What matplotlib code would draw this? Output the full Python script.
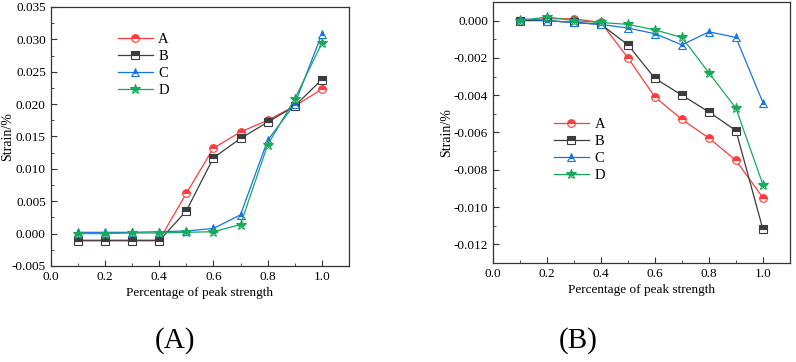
import matplotlib.pyplot as plt
import numpy as np
from matplotlib.ticker import MultipleLocator, FormatStrFormatter

plt.rcParams['font.family'] = ['Liberation Serif', 'DejaVu Serif']

# ── data ──────────────────────────────────────────────────────────────────────
x = [0.1, 0.2, 0.3, 0.4, 0.5, 0.6, 0.7, 0.8, 0.9, 1.0]
labels = ['A', 'B', 'C', 'D']

# panel (A)
a_A = [-0.0010, -0.0010, -0.0010, -0.0010, 0.0062, 0.0132, 0.0157, 0.0175, 0.0197, 0.0223]
a_B = [-0.0011, -0.0011, -0.0011, -0.0011, 0.0035, 0.0117, 0.0147, 0.0172, 0.0197, 0.0238]
a_C = [0.0002, 0.0002, 0.0002, 0.0003, 0.0004, 0.0008, 0.0029, 0.0144, 0.0200, 0.0308]
a_D = [0.0000, 0.0000, 0.0001, 0.0001, 0.0002, 0.0003, 0.0014, 0.0137, 0.0208, 0.0294]

# panel (B)
b_A = [0.0000, 0.0001, 0.0001, -0.0001, -0.0020, -0.0041, -0.0053, -0.0063, -0.0075, -0.0095]
b_B = [0.0000, 0.0000, -0.0001, -0.0002, -0.0013, -0.0031, -0.0040, -0.0049, -0.0059, -0.0112]
b_C = [0.0001, 0.0000, -0.0001, -0.0002, -0.0004, -0.0007, -0.0013, -0.0006, -0.0009, -0.0044]
b_D = [0.0000, 0.0002, 0.0000, -0.0001, -0.0002, -0.0005, -0.0009, -0.0028, -0.0047, -0.0088]

colors = ['#ff3b3b', '#3c3c3c', '#1773e6', '#17a95c']
markers = ['o', 's', '^', '*']

fig = plt.figure(figsize=(7.96, 3.62), dpi=100)
ax1 = fig.add_axes([0.0637, 0.2652, 0.3747, 0.7155])
ax2 = fig.add_axes([0.6193, 0.2735, 0.3731, 0.7210])


def draw(ax, series):
    for ys, lab, c, m in zip(series, labels, colors, markers):
        ax.plot(x, ys, color=c, lw=0.9, marker=m,
                markersize=7 if m == '*' else 5.5,
                fillstyle='top', markerfacecolor=c, markerfacecoloralt='white',
                markeredgecolor=c, markeredgewidth=0.8, label=lab)
    ax.set_xlim(0, 1.1)
    ax.xaxis.set_major_locator(MultipleLocator(0.2))
    ax.xaxis.set_minor_locator(MultipleLocator(0.1))
    ax.xaxis.set_major_formatter(FormatStrFormatter('%.1f'))
    ax.yaxis.set_major_formatter(FormatStrFormatter('%.3f'))
    ax.tick_params(which='both', direction='in', labelsize=9.5, color='#333333')
    ax.tick_params(which='major', length=4)
    ax.tick_params(which='minor', length=2)
    for sp in ax.spines.values():
        sp.set_color('#333333')
        sp.set_linewidth(0.9)
    ax.set_xlabel('Percentage of peak strength', fontsize=9.5, labelpad=3)
    ax.set_ylabel('Strain/%', fontsize=10)


draw(ax1, [a_A, a_B, a_C, a_D])
ax1.set_ylim(-0.005, 0.035)
ax1.yaxis.set_major_locator(MultipleLocator(0.005))
ax1.yaxis.set_minor_locator(MultipleLocator(0.0025))
ax1.yaxis.set_label_coords(-0.124, 0.5)
ax1.legend(loc='upper left', bbox_to_anchor=(0.18, 0.95), frameon=False,
           fontsize=10.5, handlelength=2.4, handletextpad=0.4, labelspacing=0.25)

draw(ax2, [b_A, b_B, b_C, b_D])
ax2.set_ylim(-0.013, 0.001)
ax2.yaxis.set_major_locator(MultipleLocator(0.002))
ax2.yaxis.set_minor_locator(MultipleLocator(0.001))
ax2.yaxis.set_label_coords(-0.135, 0.5)
ax2.legend(loc='upper left', bbox_to_anchor=(0.16, 0.605), frameon=False,
           fontsize=10.5, handlelength=2.4, handletextpad=0.4, labelspacing=0.25)

fig.text(0.22, 0.04, '(A)', fontsize=21, ha='center')
fig.text(0.726, 0.04, '(B)', fontsize=21, ha='center')

plt.savefig('out.png', dpi=100, facecolor='white')
plt.close()
